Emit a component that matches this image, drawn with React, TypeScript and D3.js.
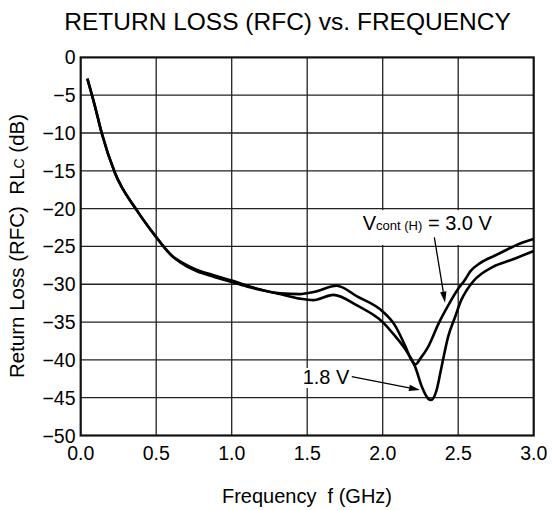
import React from 'react';
import * as d3 from 'd3';

// Frequency (GHz) and return loss (dB) for Vcont(H) = 3.0 V
const freq30 = [0.044, 0.095, 0.139, 0.227, 0.371, 0.49, 0.613, 0.66, 0.77, 0.88, 1.0, 1.12, 1.32, 1.45, 1.55, 1.695, 1.83, 2.0, 2.08, 2.15, 2.19, 2.218, 2.25, 2.30, 2.37, 2.434, 2.50, 2.545, 2.58, 2.645, 2.755, 2.91, 3.0];
const rl30 = [-2.8, -6.5, -10.0, -15.3, -20.2, -23.5, -26.4, -27.0, -28.1, -28.8, -29.5, -30.3, -31.2, -31.3, -31.0, -30.2, -31.6, -33.6, -35.4, -38.2, -40.0, -40.6, -39.8, -38.3, -35.2, -32.8, -30.6, -29.4, -28.3, -27.2, -26.1, -24.6, -24.0];

// Frequency (GHz) and return loss (dB) for Vcont(H) = 1.8 V
const freq18 = [0.044, 0.095, 0.139, 0.227, 0.371, 0.49, 0.613, 0.66, 0.77, 0.88, 1.0, 1.12, 1.32, 1.45, 1.54, 1.673, 1.83, 2.0, 2.08, 2.15, 2.215, 2.26, 2.30, 2.32, 2.357, 2.39, 2.434, 2.48, 2.52, 2.556, 2.60, 2.73, 2.85, 3.0];
const rl18 = [-2.8, -6.5, -10.0, -15.3, -20.2, -23.5, -26.4, -27.1, -28.3, -29.0, -29.7, -30.4, -31.3, -31.9, -32.1, -31.4, -32.8, -35.0, -36.8, -38.6, -40.9, -43.6, -45.1, -45.3, -44.0, -40.9, -36.9, -34.3, -32.1, -30.8, -29.6, -27.7, -26.8, -25.6];

const xTicks = [0, 0.5, 1.0, 1.5, 2.0, 2.5, 3.0];
const yTicks = [0, -5, -10, -15, -20, -25, -30, -35, -40, -45, -50];

// annotation anchors in data units: [textF, textDb, tailF, tailDb, tipF, tipDb]
const ann30 = [1.868, -22.82, 2.342, -23.79, 2.413, -32.44];
const ann18 = [1.47, -43.19, 1.795, -42.22, 2.247, -43.98];

const W = 552;
const H = 510;

function Arrow({ x1, y1, x2, y2 }: { x1: number; y1: number; x2: number; y2: number }) {
  const ang = Math.atan2(y2 - y1, x2 - x1);
  const len = 11;
  const half = 3.2;
  const bx = x2 - len * Math.cos(ang);
  const by = y2 - len * Math.sin(ang);
  const px = -Math.sin(ang) * half;
  const py = Math.cos(ang) * half;
  return (
    <g>
      <line x1={x1} y1={y1} x2={bx} y2={by} stroke="#000" strokeWidth={1.3} />
      <path d={`M${x2},${y2}L${bx + px},${by + py}L${bx - px},${by - py}Z`} fill="#000" />
    </g>
  );
}

export default function App() {
  const x = d3.scaleLinear().domain([0, 3]).range([80.7, 533.7]);
  const y = d3.scaleLinear().domain([0, -50]).range([57.4, 435.5]);
  const mk = (fs: number[], vs: number[]) =>
    d3
      .line<number>()
      .x((d) => x(d))
      .y((_, i) => y(vs[i]))
      .curve(d3.curveMonotoneX)(fs) as string;
  const font = 'Liberation Sans, Arial, Helvetica, sans-serif';
  const [x0, y0, x1, y1] = [x.range()[0], y.range()[0], x.range()[1], y.range()[1]];
  return (
    <svg
      width={W}
      height={H}
      style={{ position: 'absolute', left: 0, top: 0, background: '#fff' }}
      fontFamily={font}
    >
      <rect x={0} y={0} width={W} height={H} fill="#fff" />
      <text x={287.5} y={29.5} fontSize={24.5} textAnchor="middle" fill="#000">
        RETURN LOSS (RFC) vs. FREQUENCY
      </text>
      {xTicks.slice(1, -1).map((t) => (
        <line key={'gx' + t} x1={x(t)} x2={x(t)} y1={y0} y2={y1} stroke="#222" strokeWidth={1.3} />
      ))}
      {yTicks.slice(1, -1).map((t) => (
        <line key={'gy' + t} x1={x0} x2={x1} y1={y(t)} y2={y(t)} stroke="#222" strokeWidth={1.3} />
      ))}
      <rect x={x0} y={y0} width={x1 - x0} height={y1 - y0} fill="none" stroke="#111" strokeWidth={2.2} />
      {yTicks.map((t) => (
        <text key={'ty' + t} x={75.5} y={y(t)} dy="0.36em" fontSize={19.5} textAnchor="end" fill="#000">
          {t === 0 ? '0' : '\u2212' + Math.abs(t)}
        </text>
      ))}
      {xTicks.map((t) => (
        <text key={'tx' + t} x={x(t)} y={460} fontSize={19.5} textAnchor="middle" fill="#000">
          {t.toFixed(1)}
        </text>
      ))}
      <text x={307} y={503} fontSize={20} textAnchor="middle" fill="#000" xmlSpace="preserve">
        Frequency  f (GHz)
      </text>
      <text
        transform={`translate(24,246) rotate(-90)`}
        fontSize={20.5}
        textAnchor="middle"
        fill="#000"
        xmlSpace="preserve"
      >
        Return Loss (RFC)  RL<tspan fontSize={14}>C</tspan> (dB)
      </text>
      <path d={mk(freq30, rl30)} fill="none" stroke="#000" strokeWidth={2.6} strokeLinejoin="round" />
      <path d={mk(freq18, rl18)} fill="none" stroke="#000" strokeWidth={2.6} strokeLinejoin="round" />
      <rect x={x(ann30[0]) - 2} y={y(-20) + 1.5} width={134} height={y(-25) - y(-20) - 3} fill="#fff" />
      <text x={x(ann30[0])} y={y(ann30[1])} fontSize={20} fill="#000" xmlSpace="preserve">
        V<tspan fontSize={13}>cont (H)</tspan> = 3.0 V
      </text>
      <Arrow x1={x(ann30[2])} y1={y(ann30[3])} x2={x(ann30[4])} y2={y(ann30[5])} />
      <rect x={x(ann18[0]) - 2} y={y(ann18[1]) - 16} width={52} height={20} fill="#fff" />
      <text x={x(ann18[0])} y={y(ann18[1])} fontSize={20} fill="#000">
        1.8 V
      </text>
      <Arrow x1={x(ann18[2])} y1={y(ann18[3])} x2={x(ann18[4])} y2={y(ann18[5])} />
    </svg>
  );
}
